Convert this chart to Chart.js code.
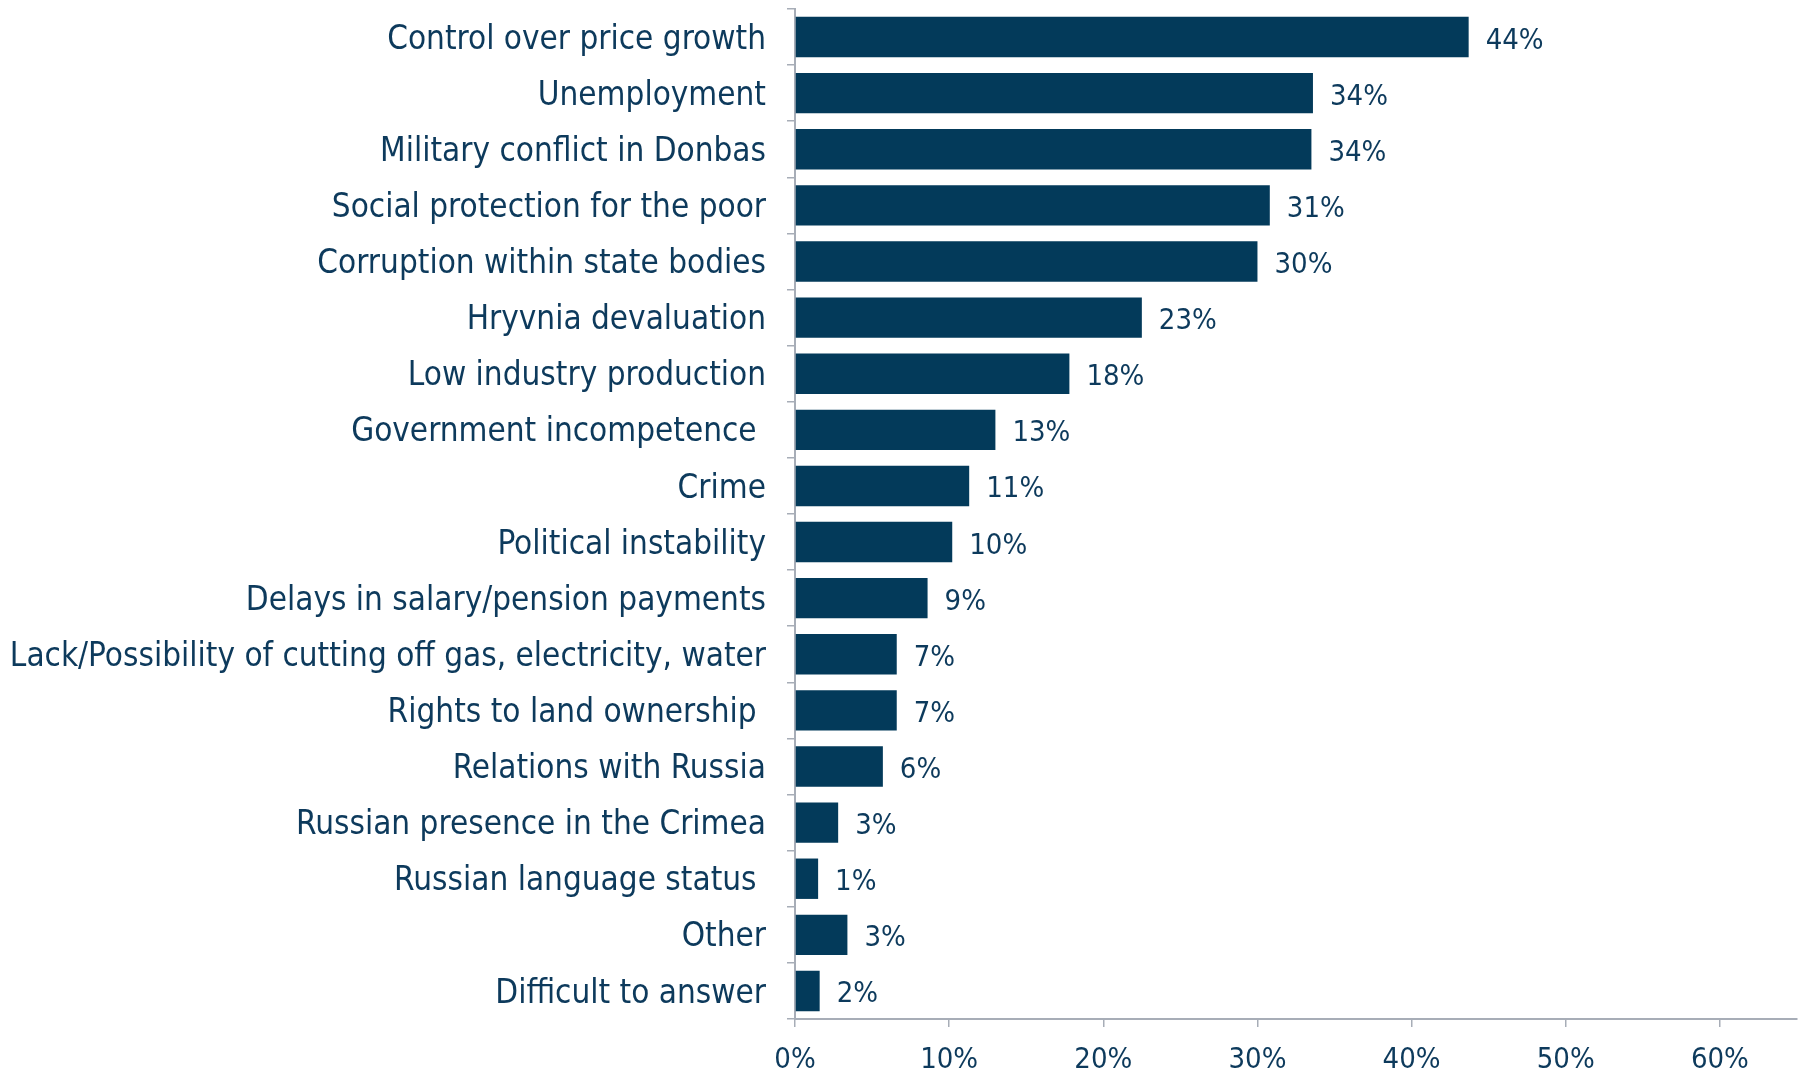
<!DOCTYPE html>
<html>
<head>
<meta charset="utf-8">
<script src="https://cdn.jsdelivr.net/npm/chart.js@4.4.0/dist/chart.umd.min.js"></script>
<style>
  html, body { margin: 0; padding: 0; background: #ffffff; }
  #wrap { width: 1806px; height: 1072px; position: relative; }
</style>
</head>
<body>
<div id="wrap"><canvas id="c" width="1806" height="1072"></canvas></div>
<script>
const categories = [
  "Control over price growth",
  "Unemployment",
  "Military conflict in Donbas",
  "Social protection for the poor",
  "Corruption within state bodies",
  "Hryvnia devaluation",
  "Low industry production",
  "Government incompetence ",
  "Crime",
  "Political instability",
  "Delays in salary/pension payments",
  "Lack/Possibility of cutting off gas, electricity, water",
  "Rights to land ownership ",
  "Relations with Russia",
  "Russian presence in the Crimea",
  "Russian language status ",
  "Other",
  "Difficult to answer"
];
const values = [0.437, 0.336, 0.335, 0.308, 0.300, 0.225, 0.178, 0.130, 0.113, 0.102, 0.086, 0.066, 0.066, 0.057, 0.028, 0.015, 0.034, 0.016];
const valueLabels = ["44%", "34%", "34%", "31%", "30%", "23%", "18%", "13%", "11%", "10%", "9%", "7%", "7%", "6%", "3%", "1%", "3%", "2%"];
const xTicks = [0, 0.1, 0.2, 0.3, 0.4, 0.5, 0.6];
const xTickLabels = ["0%", "10%", "20%", "30%", "40%", "50%", "60%"];

const FONT = "'Liberation Sans Narrow', 'DejaVu Sans Condensed', 'Arial Narrow', sans-serif";
const TEXT = "#0d3a5c";
const BAR = "#033a5a";
const AXIS = "#a7adb7";

const valueLabelPlugin = {
  id: 'valueLabels',
  afterDatasetsDraw(chart) {
    const ctx = chart.ctx;
    const meta = chart.getDatasetMeta(0);
    ctx.save();
    ctx.font = "29px " + FONT;
    ctx.fillStyle = TEXT;
    ctx.textAlign = 'left';
    ctx.textBaseline = 'middle';
    meta.data.forEach((bar, i) => {
      ctx.fillText(valueLabels[i], bar.x + 17, bar.y + 4);
    });
    ctx.restore();
  }
};

new Chart(document.getElementById('c'), {
  type: 'bar',
  data: {
    labels: categories,
    datasets: [{
      data: values,
      backgroundColor: BAR,
      borderWidth: 0,
      barPercentage: 0.72,
      categoryPercentage: 1.0
    }]
  },
  options: {
    indexAxis: 'y',
    responsive: false,
    animation: false,
    layout: { padding: { top: 9, right: 9, bottom: 0, left: 0 } },
    plugins: { legend: { display: false }, tooltip: { enabled: false } },
    scales: {
      x: {
        min: 0,
        max: 0.65,
        afterBuildTicks(scale) { scale.ticks = xTicks.map(v => ({ value: v })); },
        afterFit(scale) { scale.height = 53; scale.paddingLeft = 0; scale.paddingRight = 0; },
        border: { color: AXIS, width: 2 },
        grid: { drawOnChartArea: false, drawTicks: true, tickLength: 8, color: AXIS, lineWidth: 1.5 },
        ticks: {
          font: { family: FONT, size: 29 },
          color: TEXT,
          padding: 16,
          maxRotation: 0,
          callback: (v, i) => xTickLabels[i]
        }
      },
      y: {
        afterFit(scale) { scale.width = 795; scale.paddingTop = 0; scale.paddingBottom = 0; },
        border: { color: AXIS, width: 2 },
        grid: { offset: true, drawOnChartArea: false, drawTicks: true, tickLength: 8, color: AXIS, lineWidth: 1.5 },
        ticks: {
          font: { family: FONT, size: 33 },
          color: TEXT,
          padding: 21,
          labelOffset: 3,
          autoSkip: false
        }
      }
    }
  },
  plugins: [valueLabelPlugin]
});
</script>
</body>
</html>
